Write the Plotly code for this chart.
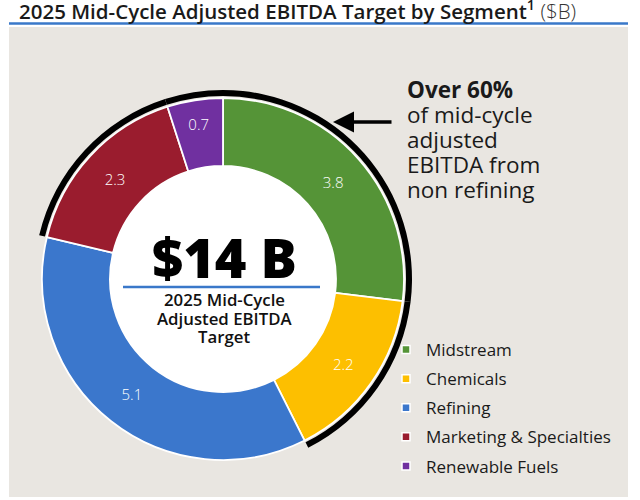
import plotly.graph_objects as go

# ---- data ----
segments = ["Midstream", "Chemicals", "Refining", "Marketing & Specialties", "Renewable Fuels"]
values = [3.8, 2.2, 5.1, 2.3, 0.7]
colors = ["#559437", "#fdbf00", "#3b77cc", "#9a1c2e", "#7030a0"]
non_refining = [True, True, False, True, True]
total_label = "$14 B"
center_lines = ["2025 Mid-Cycle", "Adjusted EBITDA", "Target"]
title_main = "2025 Mid-Cycle Adjusted EBITDA Target by Segment"
title_unit = "($B)"
callout_lines = ["<b>Over 60%</b>", "of mid-cycle", "adjusted", "EBITDA from", "non refining"]

W, H = 640, 500
FONT = "Open Sans"


def px(x):
    return x / W


def py(y):
    return 1 - y / H


cx, cy, R, R_hole = 223, 279, 181, 113
Ra = 189
Ra_in = 183

fig = go.Figure()

fig.add_trace(go.Pie(
    labels=segments, values=values, sort=False, direction="clockwise", rotation=0,
    hole=R_hole / R,
    marker=dict(colors=colors, line=dict(color="white", width=1.8)),
    texttemplate="%{value:.1f}", textposition="inside", insidetextorientation="horizontal",
    textfont=dict(color="white", size=15, family=FONT, weight=300),
    domain=dict(x=[px(cx - R), px(cx + R)], y=[py(cy + R), py(cy - R)]),
    showlegend=False, hoverinfo="label+value",
))

# black arc around the non-refining segments
fig.add_trace(go.Pie(
    labels=segments, values=values, sort=False, direction="clockwise", rotation=0,
    hole=Ra_in / Ra,
    marker=dict(colors=["black" if n else "rgba(0,0,0,0)" for n in non_refining],
                line=dict(width=0)),
    textinfo="none", hoverinfo="skip", showlegend=False,
    domain=dict(x=[px(cx - Ra), px(cx + Ra)], y=[py(cy + Ra), py(cy - Ra)]),
))

# legend entries
for s, c in zip(segments, colors):
    fig.add_trace(go.Scatter(
        x=[None], y=[None], mode="markers", name=s, legendgroup=s,
        marker=dict(symbol="square", size=8, color=c, line=dict(color="white", width=1.5)),
    ))

shapes = [
    dict(type="rect", xref="paper", yref="paper", x0=px(9), x1=px(628), y0=py(497), y1=py(27),
         fillcolor="#e9e6e1", line=dict(width=0), layer="below"),
    dict(type="line", xref="paper", yref="paper", x0=px(9), x1=px(628), y0=py(23.5), y1=py(23.5),
         line=dict(color="#3a78c9", width=2.5)),
    dict(type="circle", xref="paper", yref="paper",
         x0=px(cx - R_hole), x1=px(cx + R_hole), y0=py(cy + R_hole), y1=py(cy - R_hole),
         fillcolor="white", line=dict(width=0), layer="below"),
    dict(type="line", xref="paper", yref="paper", x0=px(123), x1=px(320), y0=py(287), y1=py(287),
         line=dict(color="#3a78c9", width=2.5)),
]

annotations = [
    dict(text=f"{title_main}<sup>1</sup> <span style='font-weight:300;color:#333'>{title_unit}</span>",
         x=px(17), y=py(10), xref="paper", yref="paper", xanchor="left", yanchor="middle",
         showarrow=False, font=dict(size=20.5, color="#1a1a1a", family=FONT, weight=600)),
    dict(text=total_label, x=px(224), y=py(257), xref="paper", yref="paper",
         xanchor="center", yanchor="middle", showarrow=False,
         font=dict(size=54, color="black", family=FONT, weight=800)),
    dict(text="", x=px(333), y=py(122), xref="paper", yref="paper", ax=60, ay=0,
         showarrow=True, arrowhead=2, arrowsize=1.2, arrowwidth=3.5, arrowcolor="black"),
]

for i, line in enumerate(center_lines):
    annotations.append(dict(text=line, x=px(224), y=py(299.5 + 18.7 * i), xref="paper", yref="paper",
                            xanchor="center", yanchor="middle", showarrow=False,
                            font=dict(size=16.8, color="#111", family=FONT, weight=600)))

for i, line in enumerate(callout_lines):
    annotations.append(dict(text=line, x=px(405), y=py(89.5 + 25 * i), xref="paper", yref="paper",
                            xanchor="left", yanchor="middle", showarrow=False,
                            font=dict(size=22.5, color="#1a1a1a", family=FONT)))

fig.update_layout(
    width=W, height=H, margin=dict(l=0, r=0, t=0, b=0),
    paper_bgcolor="white", plot_bgcolor="rgba(0,0,0,0)",
    xaxis=dict(visible=False), yaxis=dict(visible=False),
    shapes=shapes, annotations=annotations,
    legend=dict(x=px(386), y=py(332), xanchor="left", yanchor="top",
                bgcolor="rgba(0,0,0,0)", tracegroupgap=4,
                font=dict(size=17, color="#1a1a1a", family=FONT)),
    font=dict(family=FONT),
)

fig.write_html("out.html", config={"displayModeBar": False},
               post_script="document.body.style.margin='0px';")
